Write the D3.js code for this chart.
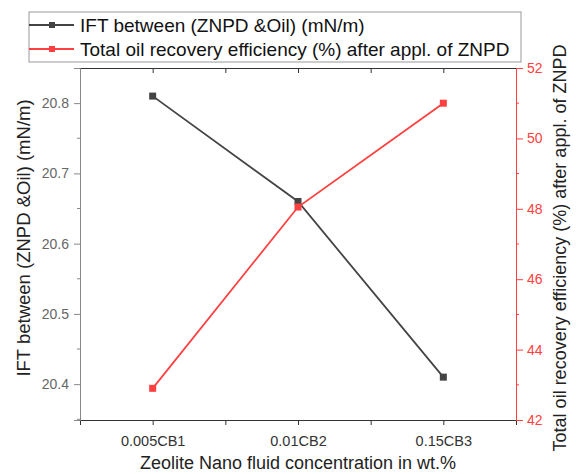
<!DOCTYPE html>
<html lang="en">
<head>
<meta charset="UTF-8">
<title>IFT and oil recovery</title>
<script src="https://d3js.org/d3.v7.min.js"></script>
<style>
  body { margin: 0; background: #fff; }
  svg { font-family: "Liberation Sans", Arial, sans-serif; }
</style>
</head>
<body>
<svg id="plot" width="576" height="474"></svg>
<script>
    // data
    const categories = ["0.005CB1", "0.01CB2", "0.15CB3"];
    const iftValues = [20.81, 20.66, 20.41];
    const recoveryValues = [42.9, 48.05, 51.0];
    const leftTicks = [20.4, 20.5, 20.6, 20.7, 20.8];
    const rightTicks = [42, 44, 46, 48, 50, 52];

    const plotLeft = 80, plotRight = 516, plotTop = 68, plotBottom = 420;
    const black = "#444", red = "#ff4040";

    const svg = d3.select("#plot");

    // X position: categories sit at 1,2,3 in a 0.5..3.5 range
    const x = d3.scaleLinear().domain([0.5, 3.5]).range([plotLeft, plotRight]);
    const yL = d3.scaleLinear().domain([20.349, 20.85]).range([plotBottom, plotTop]);
    const yR = d3.scaleLinear().domain([42, 52]).range([plotBottom, plotTop]);

    // bottom axis
    const xAxis = svg.append("g").attr("transform", "translate(0," + plotBottom + ")")
        .call(d3.axisBottom(x).tickValues([0.5, 1, 1.5, 2, 2.5, 3, 3.5]).tickSize(5)
            .tickFormat(d => Number.isInteger(d) ? categories[d - 1] : ""));
    xAxis.select(".domain").attr("stroke", "#333");
    xAxis.selectAll("line").attr("stroke", "#333");
    xAxis.selectAll("text").attr("fill", "#333").style("font-size", "14.5px").attr("y", 16);

    // top frame line with inward ticks
    const topAxis = svg.append("g").attr("transform", "translate(0," + plotTop + ")")
        .call(d3.axisTop(x).tickValues([0.5, 1, 1.5, 2, 2.5, 3, 3.5]).tickSize(-5).tickFormat(""));
    topAxis.select(".domain").attr("stroke", "#333");
    topAxis.selectAll("line").attr("stroke", "#333");

    // left axis
    const leftAxis = svg.append("g").attr("transform", "translate(" + plotLeft + ",0)")
        .call(d3.axisLeft(yL).tickValues(leftTicks).tickSize(6).tickFormat(d3.format(".1f")));
    leftAxis.select(".domain").attr("stroke", "#888");
    leftAxis.selectAll("line").attr("stroke", "#888");
    leftAxis.selectAll("text").attr("fill", "#666").style("font-size", "14px").attr("x", -11);
    leftAxis.append("g").selectAll("line")
        .data(d3.range(20.35, 20.85, 0.1).map(v => +v.toFixed(2)))
        .join("line").attr("x1", 0).attr("x2", -3)
        .attr("y1", d => yL(d)).attr("y2", d => yL(d)).attr("stroke", "#888");

    // right axis
    const rightAxis = svg.append("g").attr("transform", "translate(" + plotRight + ",0)")
        .call(d3.axisRight(yR).tickValues(rightTicks).tickSize(7));
    rightAxis.select(".domain").attr("stroke", red);
    rightAxis.selectAll("line").attr("stroke", red);
    rightAxis.selectAll("text").attr("fill", red).style("font-size", "14px").attr("x", 11);
    rightAxis.append("g").selectAll("line")
        .data(d3.range(43, 52, 2))
        .join("line").attr("x1", 0).attr("x2", 3)
        .attr("y1", d => yR(d)).attr("y2", d => yR(d)).attr("stroke", red);

    // series
    const lineL = d3.line().x((d, i) => x(i + 1)).y(d => yL(d));
    const lineR = d3.line().x((d, i) => x(i + 1)).y(d => yR(d));

    svg.append("path").datum(iftValues).attr("d", lineL)
        .attr("fill", "none").attr("stroke", black).attr("stroke-width", 1.8);
    svg.append("path").datum(recoveryValues).attr("d", lineR)
        .attr("fill", "none").attr("stroke", red).attr("stroke-width", 1.8);

    svg.append("g").selectAll("rect").data(iftValues).join("rect")
        .attr("x", (d, i) => x(i + 1) - 3.5).attr("y", d => yL(d) - 3.5)
        .attr("width", 7).attr("height", 7).attr("fill", black);
    svg.append("g").selectAll("rect").data(recoveryValues).join("rect")
        .attr("x", (d, i) => x(i + 1) - 3.5).attr("y", d => yR(d) - 3.5)
        .attr("width", 7).attr("height", 7).attr("fill", red);

    // axis titles
    svg.append("text").attr("transform", "translate(30,238) rotate(-90)")
        .attr("text-anchor", "middle").attr("fill", "#222").style("font-size", "18.5px")
        .text("IFT between (ZNPD &Oil) (mN/m)");
    svg.append("text").attr("transform", "translate(566,248) rotate(-90)")
        .attr("text-anchor", "middle").attr("fill", "#222").style("font-size", "18px")
        .text("Total oil recovery efficiency (%) after appl. of ZNPD");
    svg.append("text").attr("x", (plotLeft + plotRight) / 2).attr("y", 469)
        .attr("text-anchor", "middle").attr("fill", "#222").style("font-size", "18px")
        .text("Zeolite Nano fluid concentration in wt.%");

    // legend
    const legendItems = [
        { label: "IFT between (ZNPD &Oil) (mN/m)", color: black },
        { label: "Total oil recovery efficiency (%) after appl. of ZNPD", color: red }
    ];
    const legend = svg.append("g");
    legend.append("rect").attr("x", 29).attr("y", 12).attr("width", 492).attr("height", 50)
        .attr("fill", "#fff").attr("stroke", "#999");
    const item = legend.selectAll("g.item").data(legendItems).join("g")
        .attr("transform", (d, i) => "translate(29," + (25 + i * 24) + ")");
    item.append("line").attr("x1", 0).attr("x2", 45).attr("stroke", d => d.color).attr("stroke-width", 1.8);
    item.append("rect").attr("x", 20).attr("y", -3).attr("width", 6).attr("height", 6).attr("fill", d => d.color);
    item.append("text").attr("x", 51).attr("dy", "0.35em").attr("fill", "#111")
        .style("font-size", "19px").text(d => d.label);
</script>
</body>
</html>
